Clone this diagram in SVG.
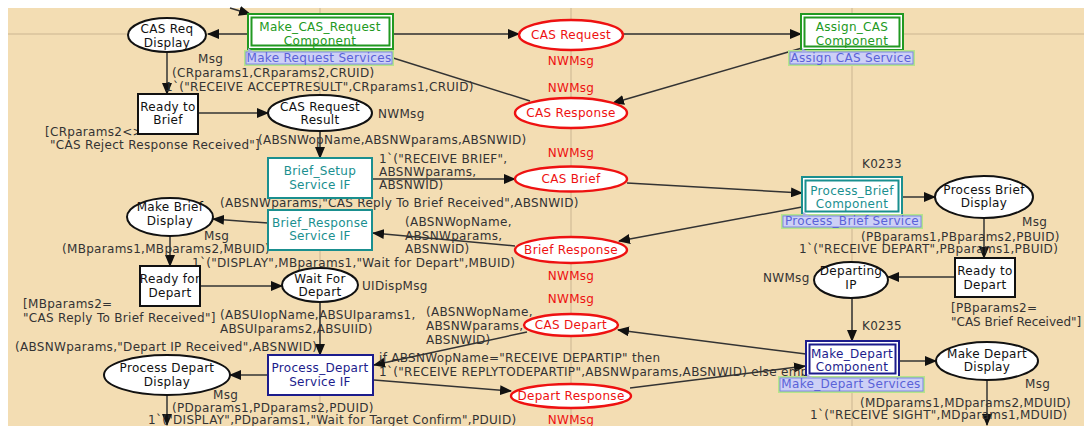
<svg xmlns="http://www.w3.org/2000/svg" width="1084" height="426" viewBox="0 0 1084 426">
<defs>
<marker id="ah" markerWidth="12" markerHeight="10" refX="11" refY="5" orient="auto" markerUnits="userSpaceOnUse"><path d="M0,0 L12,5 L0,10 z" fill="#111"/></marker>
<style>
text{font-family:"DejaVu Sans","Liberation Sans",sans-serif;font-size:12px;letter-spacing:0.3px;}
.arc{stroke:#333;stroke-width:1.5;fill:none;marker-end:url(#ah);}
.arcn{stroke:#333;stroke-width:1.5;fill:none;}
.grid{stroke:#D9C29C;stroke-width:1.5;}
.pl{fill:#fff;stroke:#111;stroke-width:2;}
.rp{fill:#fff;stroke:#EE1111;stroke-width:2.4;}
.tr{fill:#fff;stroke:#111;stroke-width:2;}
.tt{fill:#fff;stroke:#1A8F8F;stroke-width:2;}
.tn{fill:#fff;stroke:#1C1C8C;stroke-width:2;}
.nt{fill:#111;text-anchor:middle;}
.rt{fill:#EE1111;text-anchor:middle;}
.tl{fill:#1A8F8F;text-anchor:middle;}
.gl{fill:#229922;text-anchor:middle;}
.nl{fill:#1C1C8C;text-anchor:middle;}
.lb{fill:#333;}
.rl{fill:#EE1111;text-anchor:middle;}
.tagglow{fill:none;stroke:#B5E58A;stroke-width:4;}
.tag{fill:#CDD0F6;stroke:#7F86E6;stroke-width:1;}
.tagt{fill:#5A62D8;text-anchor:middle;}
.sg{fill:#fff;stroke:#229922;stroke-width:2;}
.st{fill:#fff;stroke:#1A8F8F;stroke-width:2;}
.sn{fill:#fff;stroke:#1C1C8C;stroke-width:2;}
.tri{fill:#A9AEDD;}
</style>
</defs>
<rect x="0" y="0" width="1084" height="426" fill="#fff"/>
<rect x="8" y="8" width="1076" height="418" fill="#F3DDB3"/>
<g id="grid">
<line class="grid" x1="8" y1="34" x2="1084" y2="34"/>
<line class="grid" x1="320" y1="8" x2="320" y2="426"/>
<line class="grid" x1="571" y1="8" x2="571" y2="426"/>
<line class="grid" x1="852" y1="8" x2="852" y2="426"/>
</g>
<g id="connectors">
<path class="arc" d="M230,8 L250,14"/>
<path class="arc" d="M248,34 L208,34"/>
<path class="arc" d="M393,34 L519,34"/>
<path class="arc" d="M623,34 L801,34"/>
<path class="arc" d="M802,48 L613,103"/>
<path class="arcn" d="M530,101 L390,57"/>
<path class="arc" d="M167,52 L167,94"/>
<path class="arc" d="M198,113 L268,113"/>
<path class="arc" d="M320,131 L320,158"/>
<path class="arc" d="M372,179 L515,179"/>
<path class="arc" d="M627,183 L802,193"/>
<path class="arc" d="M802,207 L619,241"/>
<path class="arc" d="M515,246 L373,233"/>
<path class="arc" d="M268,223 L213,219"/>
<path class="arc" d="M170,236 L170,266"/>
<path class="arc" d="M200,286 L282,286"/>
<path class="arc" d="M320,302 L320,355"/>
<path class="arc" d="M268,375 L230,375"/>
<path class="arc" d="M167,395 L167,425"/>
<path class="arc" d="M527,332 L374,365"/>
<path class="arc" d="M374,380 L511,391"/>
<path class="arc" d="M806,354 L618,330"/>
<path class="arc" d="M630,388 L805,366"/>
<path class="arc" d="M902,197 L935,197"/>
<path class="arc" d="M984,218 L984,258"/>
<path class="arc" d="M955,277 L888,277"/>
<path class="arc" d="M852,298 L852,341"/>
<path class="arc" d="M899,361 L936,361"/>
<path class="arc" d="M987,379 L987,425"/>
</g>
<g id="arc-labels">
<text class="lb" x="198" y="63">Msg</text>
<text class="lb" x="172" y="77">(CRparams1,CRparams2,CRUID)</text>
<text class="lb" x="165" y="91">1`("RECEIVE ACCEPTRESULT",CRparams1,CRUID)</text>
<text class="rl" x="571" y="65">NWMsg</text>
<text class="rl" x="571" y="92">NWMsg</text>
<text class="lb" x="378" y="118">NWMsg</text>
<text class="lb" x="45" y="136">[CRparams2&lt;&gt;</text>
<text class="lb" x="50" y="149">"CAS Reject Response Received"]</text>
<text class="lb" x="258" y="144">(ABSNWopName,ABSNWparams,ABSNWID)</text>
<text class="rl" x="571" y="157">NWMsg</text>
<text class="lb" x="862" y="168">K0233</text>
<text class="lb" x="379" y="163">1`("RECEIVE BRIEF",</text>
<text class="lb" x="379" y="176">ABSNWparams,</text>
<text class="lb" x="379" y="189">ABSNWID)</text>
<text class="lb" x="220" y="207">(ABSNWparams,"CAS Reply To Brief Received",ABSNWID)</text>
<text class="lb" x="405" y="226">(ABSNWopName,</text>
<text class="lb" x="405" y="240">ABSNWparams,</text>
<text class="lb" x="405" y="253">ABSNWID)</text>
<text class="lb" x="204" y="240">Msg</text>
<text class="lb" x="62" y="253">(MBparams1,MBparams2,MBUID)</text>
<text class="lb" x="192" y="267">1`("DISPLAY",MBparams1,"Wait for Depart",MBUID)</text>
<text class="rl" x="571" y="280">NWMsg</text>
<text class="lb" x="362" y="290">UIDispMsg</text>
<text class="lb" x="23" y="308">[MBparams2=</text>
<text class="lb" x="23" y="322">"CAS Reply To Brief Received"]</text>
<text class="lb" x="220" y="319">(ABSUIopName,ABSUIparams1,</text>
<text class="lb" x="220" y="333">ABSUIparams2,ABSUIID)</text>
<text class="lb" x="15" y="351">(ABSNWparams,"Depart IP Received",ABSNWID)</text>
<text class="rl" x="571" y="303">NWMsg</text>
<text class="lb" x="426" y="316">(ABSNWopName,</text>
<text class="lb" x="426" y="330">ABSNWparams,</text>
<text class="lb" x="426" y="344">ABSNWID)</text>
<text class="lb" x="379" y="362">if ABSNWopName="RECEIVE DEPARTIP" then</text>
<text class="lb" x="379" y="376">1`("RECEIVE REPLYTODEPARTIP",ABSNWparams,ABSNWID) else empty</text>
<text class="lb" x="213" y="399">Msg</text>
<text class="lb" x="172" y="412">(PDparams1,PDparams2,PDUID)</text>
<text class="lb" x="148" y="424">1`("DISPLAY",PDparams1,"Wait for Target Confirm",PDUID)</text>
<text class="rl" x="571" y="424">NWMsg</text>
<text class="lb" x="1022" y="226">Msg</text>
<text class="lb" x="861" y="241">(PBparams1,PBparams2,PBUID)</text>
<text class="lb" x="799" y="253">1`("RECEIVE DEPART",PBparams1,PBUID)</text>
<text class="lb" x="763" y="282">NWMsg</text>
<text class="lb" x="951" y="312">[PBparams2=</text>
<text class="lb" x="951" y="326" style="letter-spacing:0">"CAS Brief Received"]</text>
<text class="lb" x="862" y="330">K0235</text>
<text class="lb" x="1025" y="388">Msg</text>
<text class="lb" x="860" y="407">(MDparams1,MDparams2,MDUID)</text>
<text class="lb" x="810" y="419">1`("RECEIVE SIGHT",MDparams1,MDUID)</text>
</g>
<g id="cas-req-display"><ellipse class="pl" cx="167" cy="35" rx="39" ry="17"/><text class="nt" x="167" y="33">CAS Req</text><text class="nt" x="167" y="47">Display</text></g>
<g id="make-cas-request"><rect class="sg" x="248" y="14" width="145" height="35"/><rect class="sg" x="251.5" y="17.5" width="138" height="28" stroke-width="1.5"/><text class="gl" x="320" y="31">Make_CAS_Request</text><text class="gl" x="320" y="45">Component</text>
<rect class="tagglow" x="246" y="52" width="146" height="12"/><rect class="tag" x="246" y="52" width="146" height="12"/><polygon class="tri" points="248,48 254,52 248,52"/><text class="tagt" x="319" y="62">Make Request Services</text></g>
<g id="cas-request"><ellipse class="rp" cx="571" cy="35" rx="52" ry="15"/><text class="rt" x="571" y="39">CAS Request</text></g>
<g id="assign-cas"><rect class="sg" x="801" y="14" width="102" height="36"/><rect class="sg" x="804.5" y="17.5" width="95" height="29" stroke-width="1.5"/><text class="gl" x="852" y="31">Assign_CAS</text><text class="gl" x="852" y="45">Component</text>
<rect class="tagglow" x="790" y="52" width="123" height="12"/><rect class="tag" x="790" y="52" width="123" height="12"/><polygon class="tri" points="802,48 808,52 802,52"/><text class="tagt" x="851" y="62">Assign CAS Service</text></g>
<g id="ready-to-brief"><rect class="tr" x="138" y="94" width="60" height="40"/><text class="nt" x="168" y="111">Ready to</text><text class="nt" x="168" y="124">Brief</text></g>
<g id="cas-request-result"><ellipse class="pl" cx="320" cy="113" rx="52" ry="18"/><text class="nt" x="320" y="111">CAS Request</text><text class="nt" x="320" y="124">Result</text></g>
<g id="cas-response"><ellipse class="rp" cx="571" cy="113" rx="56" ry="15"/><text class="rt" x="571" y="117">CAS Response</text></g>
<g id="brief-setup"><rect class="tt" x="268" y="158" width="104" height="40"/><text class="tl" x="320" y="175">Brief_Setup</text><text class="tl" x="320" y="189">Service IF</text></g>
<g id="cas-brief"><ellipse class="rp" cx="571" cy="179" rx="56" ry="12.5"/><text class="rt" x="571" y="183">CAS Brief</text></g>
<g id="process-brief"><rect class="st" x="802" y="177" width="100" height="38"/><rect class="st" x="805.5" y="180.5" width="93" height="31" stroke-width="1.5"/><text class="tl" x="852" y="195">Process_Brief</text><text class="tl" x="852" y="208">Component</text>
<rect class="tagglow" x="783" y="216" width="138" height="11"/><rect class="tag" x="783" y="216" width="138" height="11"/><polygon class="tri" points="803,212 809,216 803,216"/><text class="tagt" x="852" y="225">Process_Brief Service</text></g>
<g id="process-brief-display"><ellipse class="pl" cx="984" cy="197" rx="49" ry="21"/><text class="nt" x="984" y="194">Process Brief</text><text class="nt" x="984" y="207">Display</text></g>
<g id="make-brief-display"><ellipse class="pl" cx="170" cy="217" rx="43" ry="19"/><text class="nt" x="170" y="211">Make Brief</text><text class="nt" x="170" y="225">Display</text></g>
<g id="brief-response-if"><rect class="tt" x="268" y="210" width="104" height="40"/><text class="tl" x="320" y="227">Brief_Response</text><text class="tl" x="320" y="240">Service IF</text></g>
<g id="brief-response"><ellipse class="rp" cx="571" cy="250" rx="56" ry="13"/><text class="rt" x="571" y="254">Brief Response</text></g>
<g id="ready-for-depart"><rect class="tr" x="140" y="266" width="60" height="40"/><text class="nt" x="170" y="283">Ready for</text><text class="nt" x="170" y="297">Depart</text></g>
<g id="wait-for-depart"><ellipse class="pl" cx="320" cy="285" rx="38" ry="17"/><text class="nt" x="320" y="283">Wait For</text><text class="nt" x="320" y="296">Depart</text></g>
<g id="ready-to-depart"><rect class="tr" x="955" y="258" width="60" height="39"/><text class="nt" x="985" y="275">Ready to</text><text class="nt" x="985" y="289">Depart</text></g>
<g id="departing-ip"><ellipse class="pl" cx="851" cy="280" rx="37" ry="18"/><text class="nt" x="851" y="275">Departing</text><text class="nt" x="851" y="289">IP</text></g>
<g id="cas-depart"><ellipse class="rp" cx="571" cy="325" rx="47" ry="11"/><text class="rt" x="571" y="329">CAS Depart</text></g>
<g id="process-depart-display"><ellipse class="pl" cx="167" cy="375" rx="63" ry="20"/><text class="nt" x="167" y="372">Process Depart</text><text class="nt" x="167" y="386">Display</text></g>
<g id="process-depart-if"><rect class="tn" x="268" y="355" width="105" height="40"/><text class="nl" x="320" y="372">Process_Depart</text><text class="nl" x="320" y="386">Service IF</text></g>
<g id="depart-response"><ellipse class="rp" cx="571" cy="396" rx="60" ry="12"/><text class="rt" x="571" y="400">Depart Response</text></g>
<g id="make-depart"><rect class="sn" x="806" y="341" width="93" height="36"/><rect class="sn" x="809.5" y="344.5" width="86" height="29" stroke-width="1.5"/><text class="nl" x="852" y="358">Make_Depart</text><text class="nl" x="852" y="371">Component</text>
<rect class="tagglow" x="780" y="378" width="143" height="13"/><rect class="tag" x="780" y="378" width="143" height="13"/><polygon class="tri" points="807,374 813,378 807,378"/><text class="tagt" x="851" y="388">Make_Depart Services</text></g>
<g id="make-depart-display"><ellipse class="pl" cx="987" cy="361" rx="51" ry="19"/><text class="nt" x="987" y="358">Make Depart</text><text class="nt" x="987" y="371">Display</text></g>
</svg>
